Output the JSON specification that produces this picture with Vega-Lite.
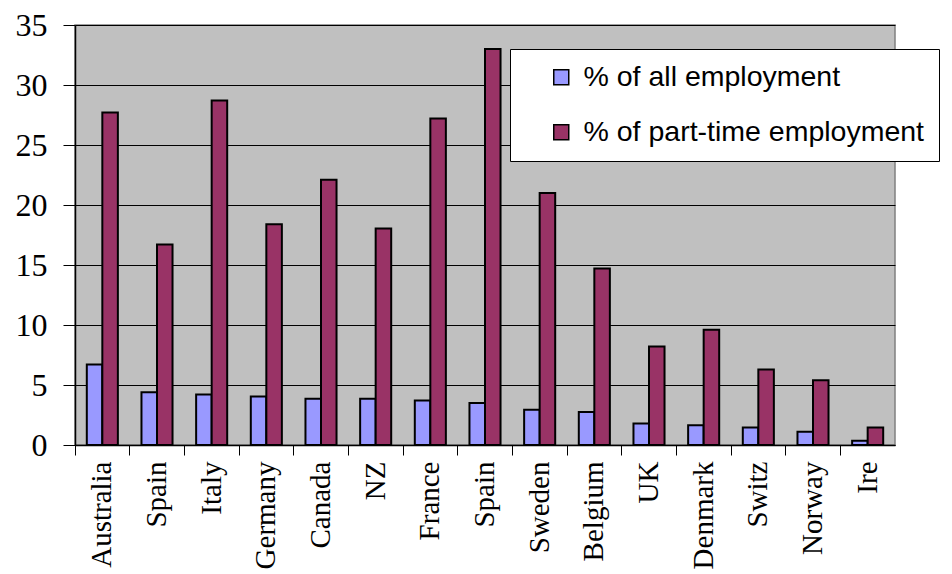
{
  "$schema": "https://vega.github.io/schema/vega-lite/v6.json",
  "autosize": {"type": "none"},
  "padding": {"left": 75, "top": 25, "right": 57, "bottom": 129},
  "width": 820,
  "height": 420,
  "background": "white",
  "config": {
    "view": {"fill": "#C0C0C0", "stroke": "#808080", "strokeWidth": 1.5}
  },
  "data": {
    "values": [
      {"key": "Australia", "country": "Australia", "measure": "% of all employment", "value": 6.7},
      {"key": "Australia", "country": "Australia", "measure": "% of part-time employment", "value": 27.7},
      {"key": "Spain", "country": "Spain", "measure": "% of all employment", "value": 4.4},
      {"key": "Spain", "country": "Spain", "measure": "% of part-time employment", "value": 16.7},
      {"key": "Italy", "country": "Italy", "measure": "% of all employment", "value": 4.2},
      {"key": "Italy", "country": "Italy", "measure": "% of part-time employment", "value": 28.7},
      {"key": "Germany", "country": "Germany", "measure": "% of all employment", "value": 4.05},
      {"key": "Germany", "country": "Germany", "measure": "% of part-time employment", "value": 18.4},
      {"key": "Canada", "country": "Canada", "measure": "% of all employment", "value": 3.86},
      {"key": "Canada", "country": "Canada", "measure": "% of part-time employment", "value": 22.1},
      {"key": "NZ", "country": "NZ", "measure": "% of all employment", "value": 3.86},
      {"key": "NZ", "country": "NZ", "measure": "% of part-time employment", "value": 18.05},
      {"key": "France", "country": "France", "measure": "% of all employment", "value": 3.7},
      {"key": "France", "country": "France", "measure": "% of part-time employment", "value": 27.2},
      {"key": "Spain (2)", "country": "Spain", "measure": "% of all employment", "value": 3.5},
      {"key": "Spain (2)", "country": "Spain", "measure": "% of part-time employment", "value": 33.0},
      {"key": "Sweden", "country": "Sweden", "measure": "% of all employment", "value": 2.94},
      {"key": "Sweden", "country": "Sweden", "measure": "% of part-time employment", "value": 21.0},
      {"key": "Belgium", "country": "Belgium", "measure": "% of all employment", "value": 2.75},
      {"key": "Belgium", "country": "Belgium", "measure": "% of part-time employment", "value": 14.7},
      {"key": "UK", "country": "UK", "measure": "% of all employment", "value": 1.8},
      {"key": "UK", "country": "UK", "measure": "% of part-time employment", "value": 8.2},
      {"key": "Denmark", "country": "Denmark", "measure": "% of all employment", "value": 1.65},
      {"key": "Denmark", "country": "Denmark", "measure": "% of part-time employment", "value": 9.6},
      {"key": "Switz", "country": "Switz", "measure": "% of all employment", "value": 1.45},
      {"key": "Switz", "country": "Switz", "measure": "% of part-time employment", "value": 6.3},
      {"key": "Norway", "country": "Norway", "measure": "% of all employment", "value": 1.1},
      {"key": "Norway", "country": "Norway", "measure": "% of part-time employment", "value": 5.4},
      {"key": "Ire", "country": "Ire", "measure": "% of all employment", "value": 0.35},
      {"key": "Ire", "country": "Ire", "measure": "% of part-time employment", "value": 1.45}
    ]
  },
  "mark": {"type": "bar", "strokeWidth": 2, "strokeOpacity": 1},
  "encoding": {
    "x": {
      "field": "key",
      "type": "nominal",
      "sort": null,
      "scale": {"paddingInner": 0, "paddingOuter": 0},
      "axis": {
        "title": null,
        "bandPosition": 0,
        "labelExpr": "datum.label == 'Spain (2)' ? 'Spain' : datum.label",
        "labelAngle": 270,
        "labelFont": "Liberation Serif",
        "labelFontSize": 29,
        "labelColor": "black",
        "labelPadding": 6,
        "labelBound": false,
        "labelOverlap": false,
        "tickSize": 10,
        "tickColor": "black",
        "domainColor": "black",
        "domainWidth": 1.5
      }
    },
    "xOffset": {
      "field": "measure",
      "type": "nominal",
      "scale": {"paddingInner": 0, "paddingOuter": 0.76}
    },
    "y": {
      "field": "value",
      "type": "quantitative",
      "scale": {"domain": [0, 35], "nice": false},
      "axis": {
        "title": null,
        "values": [0, 5, 10, 15, 20, 25, 30, 35],
        "labelFont": "Liberation Serif",
        "labelFontSize": 32,
        "labelColor": "black",
        "labelPadding": 16,
        "tickSize": 12,
        "tickColor": "black",
        "domainColor": "black",
        "domainWidth": 1.5,
        "grid": true,
        "gridColor": "black",
        "gridWidth": 1,
        "gridOpacity": 1
      }
    },
    "stroke": {"value": "#000000"},
    "fill": {
      "field": "measure",
      "type": "nominal",
      "scale": {"domain": ["% of all employment", "% of part-time employment"], "range": ["#9999FF", "#993366"]},
      "legend": {
        "title": null,
        "orient": "none",
        "legendX": 435,
        "legendY": 24,
        "direction": "vertical",
        "fillColor": "white",
        "strokeColor": "black",
        "padding": 14,
        "symbolOffset": 23,
        "symbolType": "square",
        "symbolSize": 225,
        "symbolStrokeColor": "black",
        "symbolStrokeWidth": 1.5,
        "symbolOpacity": 1,
        "labelFont": "Liberation Sans",
        "labelFontSize": 28.5,
        "labelColor": "black",
        "labelOffset": 8,
        "labelLimit": 500,
        "rowPadding": 26
      }
    }
  }
}
